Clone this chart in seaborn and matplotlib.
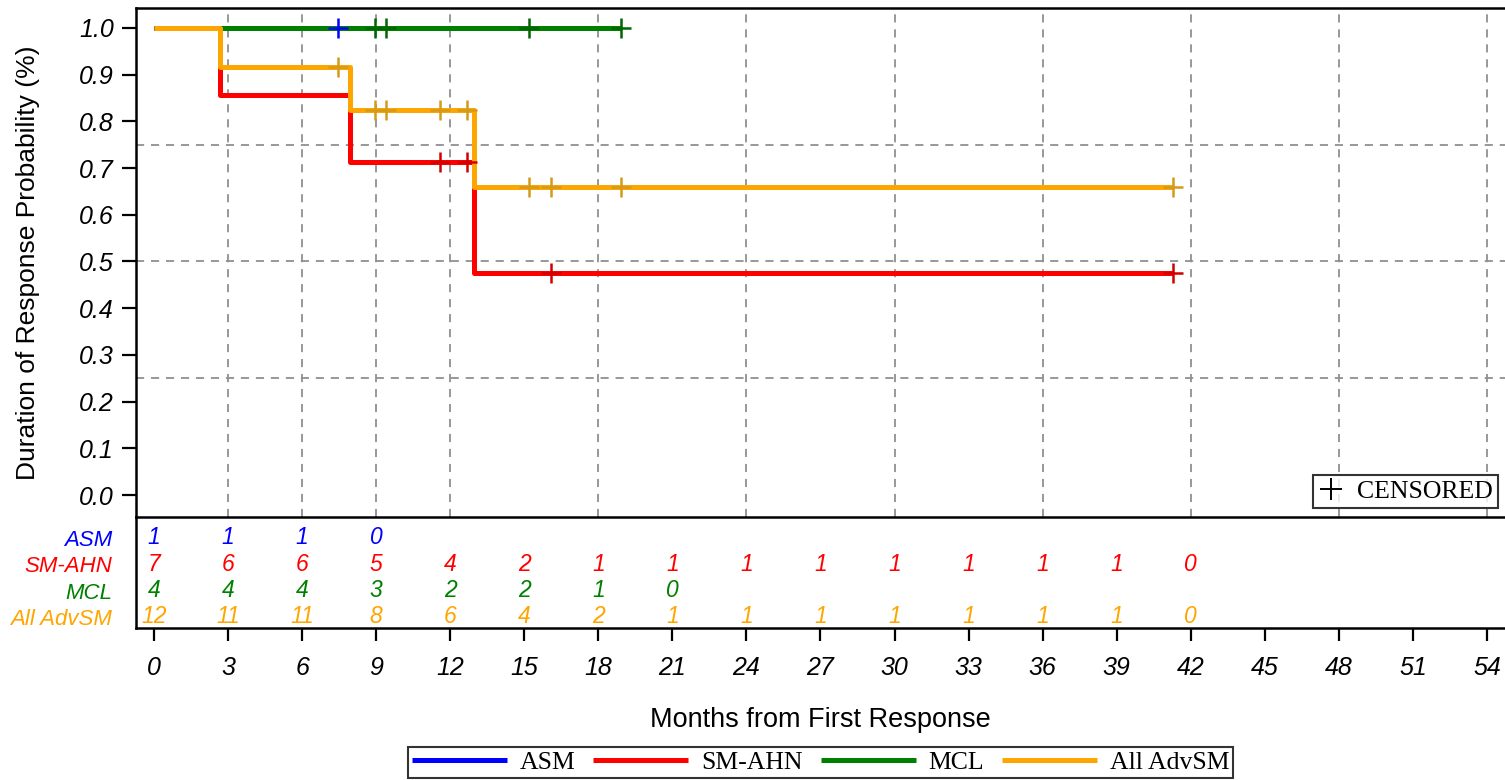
import numpy as np
import matplotlib
matplotlib.use("Agg")
import matplotlib.pyplot as plt
from matplotlib.lines import Line2D
import seaborn as sns

# ---------------- data ----------------
groups = ["ASM", "SM-AHN", "MCL", "All AdvSM"]
line_colors = ["#0000FF", "#FF0000", "#008000", "#FFA500"]
mark_colors = ["#0000FF", "#D00000", "#006400", "#D49A1A"]

# Kaplan-Meier step points (time in months, survival)
asm_t = [0.0, 7.45]
asm_s = [1.0, 1.0]
sm_ahn_t = [0.0, 2.67, 7.94, 12.96, 41.3]
sm_ahn_s = [1.0, 0.857, 0.714, 0.476, 0.476]
mcl_t = [0.0, 18.9]
mcl_s = [1.0, 1.0]
all_t = [0.0, 2.67, 7.94, 12.96, 41.3]
all_s = [1.0, 0.917, 0.825, 0.66, 0.66]

# censored observation times
asm_cens = [7.45]
sm_ahn_cens = [11.6, 12.7, 16.1, 41.3]
mcl_cens = [8.95, 9.4, 15.2, 18.9]
all_cens = [7.45, 8.95, 9.4, 11.6, 12.7, 15.2, 16.1, 18.9, 41.3]

# number at risk
risk_times = [0, 3, 6, 9, 12, 15, 18, 21, 24, 27, 30, 33, 36, 39, 42]
asm_risk = [1, 1, 1, 0]
sm_ahn_risk = [7, 6, 6, 5, 4, 2, 1, 1, 1, 1, 1, 1, 1, 1, 0]
mcl_risk = [4, 4, 4, 3, 2, 2, 1, 0]
all_risk = [12, 11, 11, 8, 6, 4, 2, 1, 1, 1, 1, 1, 1, 1, 0]

x_ticks = [0, 3, 6, 9, 12, 15, 18, 21, 24, 27, 30, 33, 36, 39, 42, 45, 48, 51, 54]
x_grid = [3, 6, 9, 12, 18, 24, 30, 36, 42, 48, 54]
y_ticks = [0.0, 0.1, 0.2, 0.3, 0.4, 0.5, 0.6, 0.7, 0.8, 0.9, 1.0]
y_grid = [0.25, 0.5, 0.75]

series = [
    (asm_t, asm_s, asm_cens, asm_risk),
    (sm_ahn_t, sm_ahn_s, sm_ahn_cens, sm_ahn_risk),
    (mcl_t, mcl_s, mcl_cens, mcl_risk),
    (all_t, all_s, all_cens, all_risk),
]

# ---------------- style ----------------
sns.set_style("white")
plt.rcParams["font.family"] = ["Liberation Sans", "DejaVu Sans"]
for k in ["text.color", "axes.labelcolor", "xtick.color", "ytick.color", "axes.edgecolor"]:
    plt.rcParams[k] = "black"
SERIF = ["Liberation Serif", "DejaVu Serif"]

W, H = 1505, 780
fig = plt.figure(figsize=(W / 100, H / 100), dpi=100)

def fr(x0, y0, x1, y1):
    return [x0 / W, 1 - y1 / H, (x1 - x0) / W, (y1 - y0) / H]

axr = fig.add_axes(fr(136, 517, 1505, 628))
ax = fig.add_axes(fr(136, 8, 1505, 517), sharex=axr)
ax.set_facecolor("none")
axr.set_facecolor("none")

ax.set_xlim(-0.729, 54.73)
ax.set_ylim(-0.0471, 1.0428)

# grid (reference lines)
for gx in x_grid:
    ax.axvline(gx, color="#909090", lw=1.3, dashes=(4.5, 3.8), zorder=1)
for gy in y_grid:
    ax.axhline(gy, color="#909090", lw=1.3, dashes=(4.5, 3.8), zorder=1)

def surv_at(ts, ss, t):
    idx = np.searchsorted(np.asarray(ts), np.asarray(t), side="right") - 1
    return np.asarray(ss)[idx]

for (t, s, cens, _), lc in zip(series, line_colors):
    sns.lineplot(x=t, y=s, ax=ax, color=lc, linewidth=3.6, drawstyle="steps-post",
                 estimator=None, sort=False, zorder=3, solid_capstyle="butt")

for (t, s, cens, _), mc in zip(series, mark_colors):
    sns.scatterplot(x=cens, y=surv_at(t, s, cens), ax=ax, marker="+", s=220,
                    color=mc, linewidth=1.8, zorder=6, legend=False)

# axes styling - main
for side in ["left", "top", "bottom"]:
    ax.spines[side].set_visible(True)
    ax.spines[side].set_linewidth(1.8)
    ax.spines[side].set_color("black")
ax.spines["right"].set_visible(False)
ax.set_yticks(y_ticks)
ax.set_yticklabels([f"{v:.1f}" for v in y_ticks], fontsize=18, style="italic")
ax.tick_params(axis="y", direction="out", length=10, width=1.6, pad=6, left=True)
ax.tick_params(axis="x", bottom=False, labelbottom=False)
ax.set_ylabel("Duration of Response Probability (%)", fontsize=19, va="center")
ax.yaxis.set_label_coords(-0.0789, 0.5)

# censored legend box
cens_handle = Line2D([], [], color="black", marker="+", linestyle="none",
                     markersize=16, markeredgewidth=1.4)
leg2 = ax.legend([cens_handle], ["CENSORED"], loc="lower right",
                 bbox_to_anchor=(1 - 7 / 1369, 9 / 509), borderaxespad=0,
                 frameon=True, fancybox=False, edgecolor="black",
                 prop={"family": SERIF, "size": 18.5}, handlelength=1.0,
                 handletextpad=0.5, borderpad=0.2)
leg2.get_frame().set_linewidth(1.5)

# ---------------- risk table ----------------
nrow = len(groups)
axr.set_ylim(4.418, 0.203)
for i, ((_, _, _, risk), lc) in enumerate(zip(series, line_colors)):
    for tt, n in zip(risk_times, risk):
        axr.text(tt, i + 1, str(n), ha="center", va="center", color=lc,
                 fontsize=16.5, style="italic")
axr.set_yticks(range(1, nrow + 1))
axr.set_yticklabels(groups, fontsize=16, style="italic")
for lbl, lc in zip(axr.get_yticklabels(), line_colors):
    lbl.set_color(lc)
axr.tick_params(axis="y", length=0, pad=17)
for side in ["left", "bottom"]:
    axr.spines[side].set_visible(True)
    axr.spines[side].set_linewidth(1.8)
    axr.spines[side].set_color("black")
axr.spines["top"].set_visible(False)
axr.spines["right"].set_visible(False)
axr.set_xticks(x_ticks)
axr.set_xticklabels([str(v) for v in x_ticks], fontsize=18, style="italic")
axr.tick_params(axis="x", direction="out", length=9.5, width=1.6, pad=11, bottom=True)
axr.set_xlabel("Months from First Response", fontsize=19.5, labelpad=19)

# ---------------- bottom legend ----------------
handles = [Line2D([], [], color=c, linewidth=3.6, solid_capstyle="butt") for c in line_colors]
leg = fig.legend(handles, groups, loc="lower center", ncol=4,
                 bbox_to_anchor=(820.5 / W, 2 / H), bbox_transform=fig.transFigure,
                 borderaxespad=0, frameon=True, fancybox=False, edgecolor="black",
                 prop={"family": SERIF, "size": 18.5}, handlelength=3.7,
                 handletextpad=0.5, columnspacing=0.7, borderpad=0.15)
leg.get_frame().set_linewidth(1.5)

fig.savefig("out.png", dpi=100)
